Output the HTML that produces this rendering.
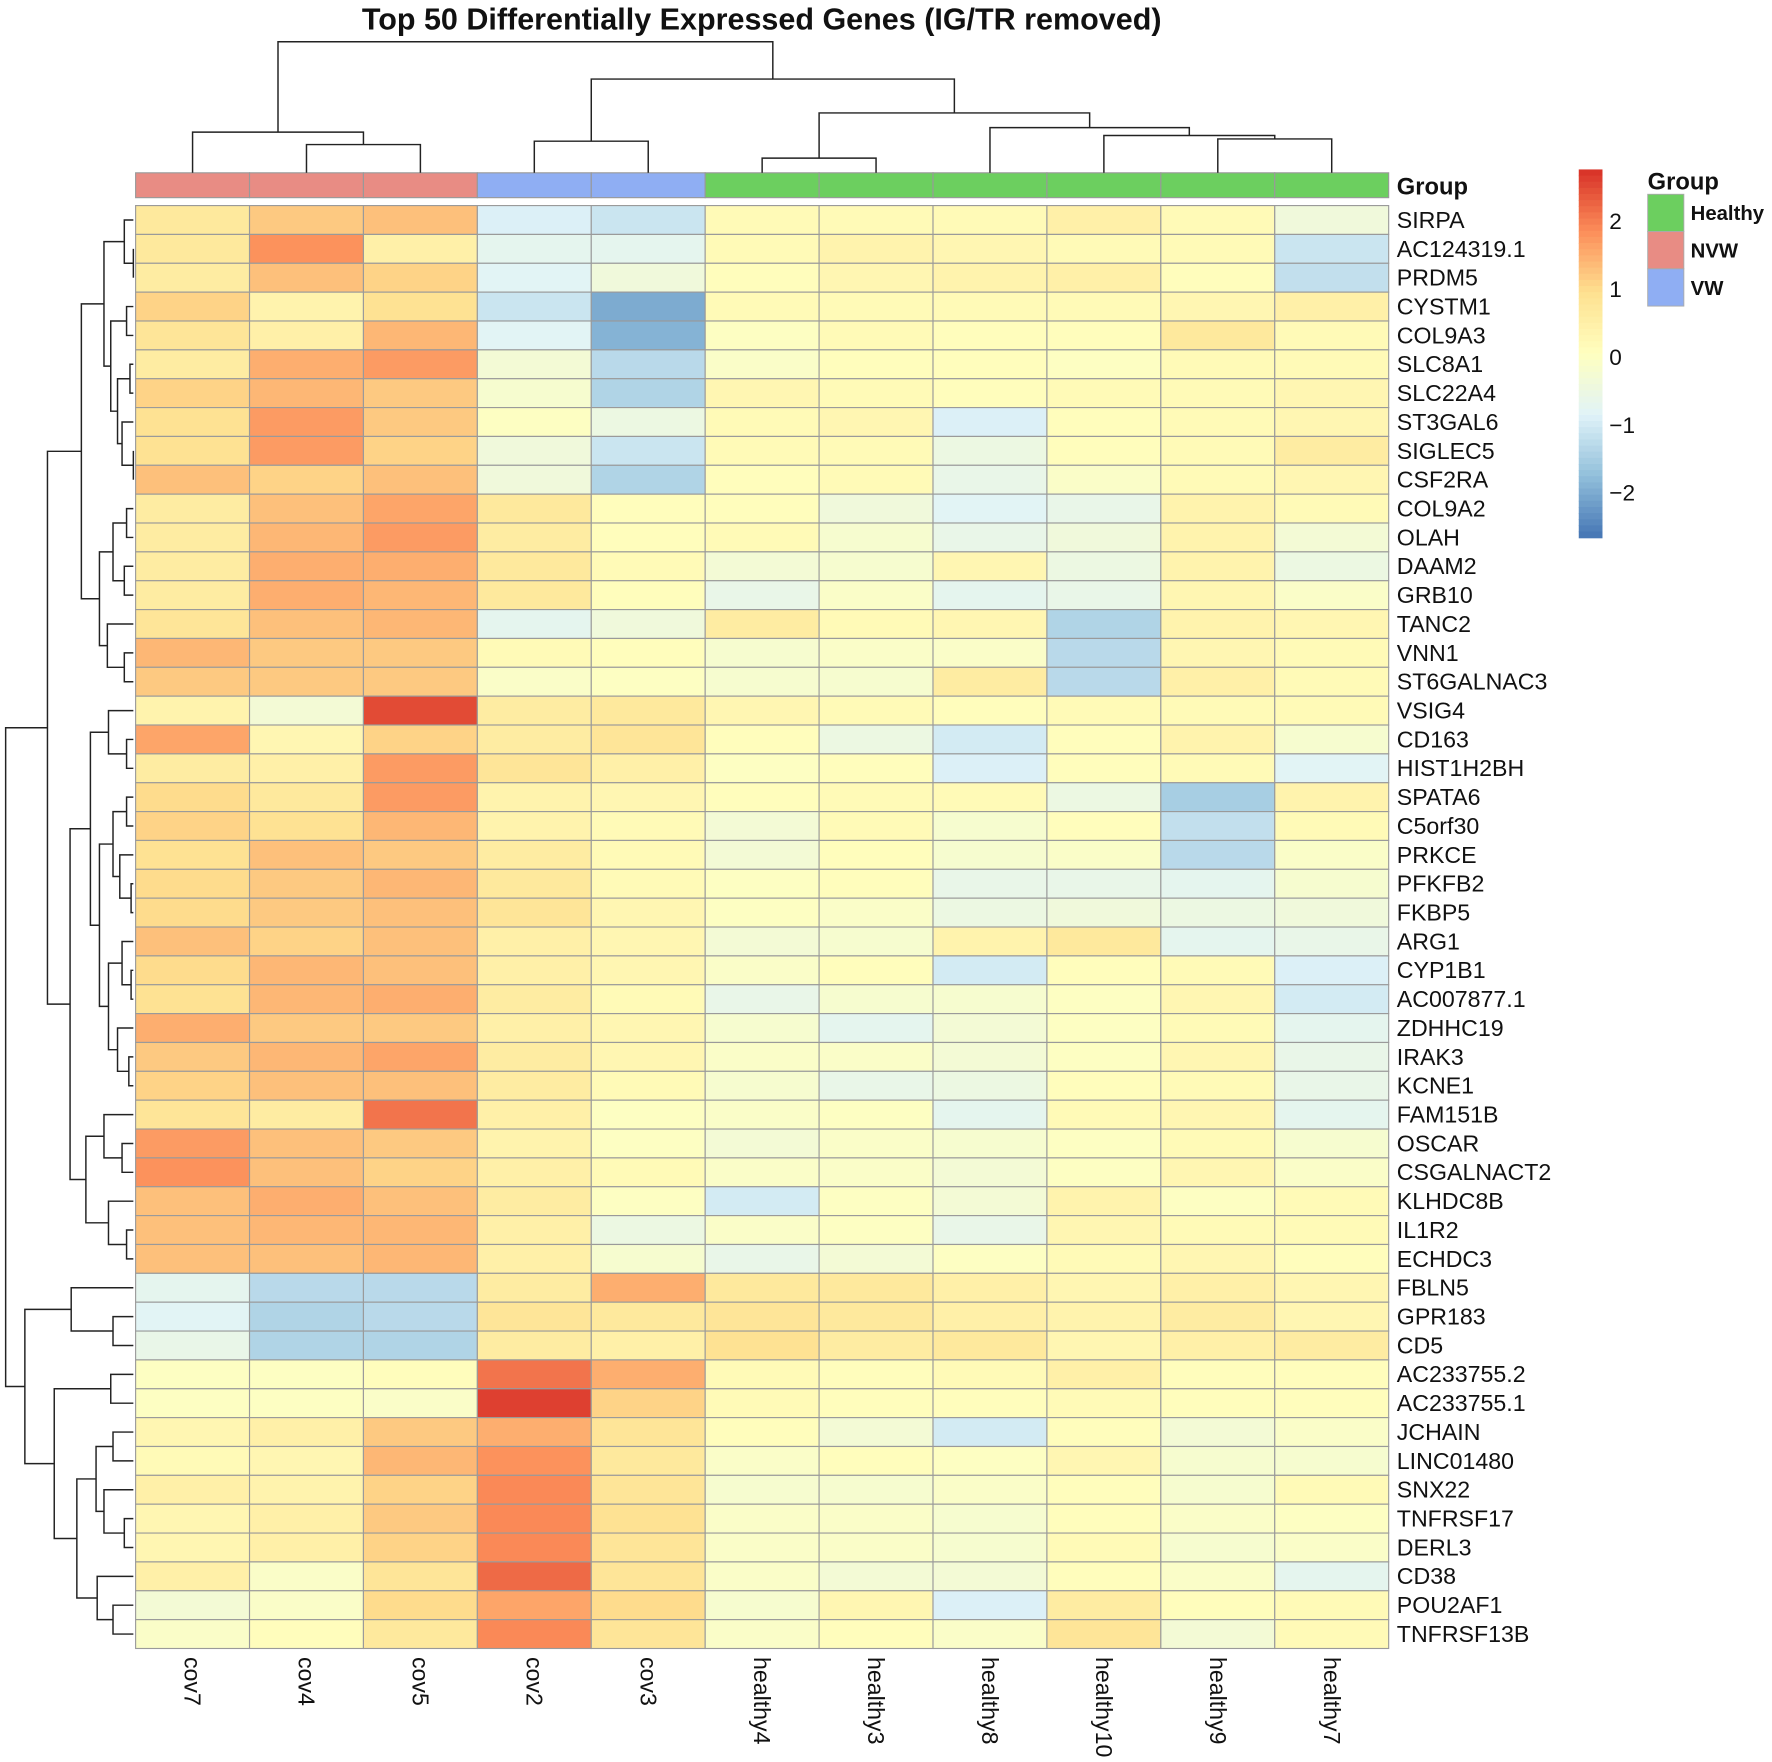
<!DOCTYPE html>
<html><head><meta charset="utf-8">
<style>html,body{margin:0;padding:0;background:#fff;}svg{display:block;}
text{font-family:"Liberation Sans",Arial,sans-serif;fill:#111;}</style></head>
<body>
<svg id="chart" xmlns="http://www.w3.org/2000/svg" width="1772" height="1762" viewBox="0 0 1568 1560" preserveAspectRatio="none">
<text x="674" y="26" text-anchor="middle" font-size="27" font-weight="bold">Top 50 Differentially Expressed Genes (IG/TR removed)</text>
<g id="g"></g>
</svg>
<script>
const samples = ["cov7","cov4","cov5","cov2","cov3","healthy4","healthy3","healthy8","healthy10","healthy9","healthy7"];
const groups = ["NVW","NVW","NVW","VW","VW","Healthy","Healthy","Healthy","Healthy","Healthy","Healthy"];
const genes = ["SIRPA","AC124319.1","PRDM5","CYSTM1","COL9A3","SLC8A1","SLC22A4","ST3GAL6","SIGLEC5","CSF2RA","COL9A2","OLAH","DAAM2","GRB10","TANC2","VNN1","ST6GALNAC3","VSIG4","CD163","HIST1H2BH","SPATA6","C5orf30","PRKCE","PFKFB2","FKBP5","ARG1","CYP1B1","AC007877.1","ZDHHC19","IRAK3","KCNE1","FAM151B","OSCAR","CSGALNACT2","KLHDC8B","IL1R2","ECHDC3","FBLN5","GPR183","CD5","AC233755.2","AC233755.1","JCHAIN","LINC01480","SNX22","TNFRSF17","DERL3","CD38","POU2AF1","TNFRSF13B"];
const values = [
[0.7,1.2,1.3,-0.9,-1.1,0.2,0.2,0.2,0.5,0.2,-0.4],
[0.7,1.8,0.5,-0.7,-0.7,0.2,0.4,0.3,0.2,0.2,-1.1],
[0.6,1.3,1.1,-0.8,-0.4,0.1,0.3,0.4,0.5,0.1,-1.2],
[1.1,0.4,0.9,-1.1,-2.0,0.2,0.2,0.2,0.2,0.3,0.5],
[0.8,0.5,1.4,-0.8,-1.9,0.0,0.2,0.1,0.1,0.7,0.2],
[0.6,1.5,1.7,-0.3,-1.3,-0.1,0.1,0.1,0.0,0.2,0.2],
[1.1,1.4,1.2,-0.2,-1.4,0.3,0.2,0.1,0.2,0.2,0.3],
[0.9,1.7,1.2,0.0,-0.5,0.2,0.3,-0.9,0.1,0.2,0.3],
[0.9,1.7,1.1,-0.4,-1.1,0.2,0.2,-0.5,0.1,0.2,0.6],
[1.3,1.1,1.3,-0.4,-1.4,0.1,0.2,-0.6,-0.1,0.2,0.3],
[0.6,1.3,1.6,0.7,0.1,0.1,-0.4,-0.8,-0.6,0.4,0.2],
[0.6,1.4,1.7,0.6,0.1,0.2,-0.2,-0.6,-0.4,0.4,-0.3],
[0.6,1.5,1.5,0.7,0.2,-0.3,-0.2,0.3,-0.5,0.4,-0.5],
[0.6,1.5,1.4,0.7,0.1,-0.6,-0.1,-0.7,-0.6,0.3,-0.1],
[0.8,1.3,1.4,-0.7,-0.4,0.6,0.2,0.3,-1.4,0.4,0.3],
[1.4,1.2,1.2,0.2,0.1,-0.2,-0.1,-0.1,-1.3,0.3,0.2],
[1.2,1.2,1.2,-0.1,0.0,-0.2,-0.2,0.6,-1.3,0.5,0.2],
[0.4,-0.3,2.5,0.6,0.7,0.3,0.2,0.1,0.2,0.2,0.2],
[1.6,0.3,1.1,0.6,0.8,0.1,-0.5,-1.0,0.1,0.4,-0.2],
[0.6,0.5,1.7,0.8,0.5,0.0,0.1,-0.9,0.1,0.2,-0.8],
[1.0,0.7,1.7,0.4,0.3,0.1,0.2,0.2,-0.5,-1.5,0.4],
[1.1,0.9,1.4,0.4,0.2,-0.3,0.2,-0.2,0.1,-1.2,0.2],
[0.9,1.3,1.2,0.6,0.2,-0.3,0.1,-0.2,-0.1,-1.3,-0.1],
[1.0,1.2,1.4,0.7,0.2,0.0,0.1,-0.6,-0.6,-0.7,-0.2],
[1.0,1.2,1.3,0.8,0.3,0.0,-0.1,-0.5,-0.4,-0.5,-0.4],
[1.3,1.1,1.3,0.5,0.3,-0.3,-0.2,0.4,0.7,-0.7,-0.6],
[1.0,1.4,1.3,0.5,0.3,-0.1,0.1,-1.0,0.1,0.2,-0.9],
[0.9,1.4,1.5,0.6,0.2,-0.6,-0.2,-0.2,0.0,0.3,-1.0],
[1.5,1.2,1.2,0.5,0.3,-0.2,-0.7,-0.3,0.0,0.2,-0.7],
[1.2,1.4,1.6,0.6,0.3,-0.1,-0.1,-0.3,0.0,0.3,-0.6],
[1.1,1.3,1.3,0.6,0.2,-0.2,-0.6,-0.5,0.1,0.2,-0.6],
[0.8,0.6,2.1,0.5,0.0,-0.1,0.0,-0.7,0.2,0.3,-0.7],
[1.7,1.3,1.2,0.4,0.0,-0.3,-0.1,-0.2,0.0,0.2,-0.2],
[1.8,1.3,1.1,0.5,0.2,-0.1,-0.1,-0.3,0.0,0.3,-0.1],
[1.3,1.5,1.3,0.6,0.0,-1.0,0.0,-0.3,0.4,0.0,0.2],
[1.3,1.4,1.4,0.5,-0.5,-0.1,0.0,-0.6,0.3,0.2,0.2],
[1.3,1.3,1.4,0.5,-0.2,-0.6,-0.3,0.0,0.2,0.3,0.1],
[-0.7,-1.3,-1.3,0.6,1.5,0.7,0.7,0.5,0.3,0.5,0.3],
[-0.8,-1.4,-1.3,0.8,0.7,0.8,0.7,0.5,0.4,0.6,0.3],
[-0.6,-1.4,-1.4,0.6,0.5,0.9,0.6,0.7,0.3,0.5,0.6],
[0.0,0.0,0.1,2.1,1.5,0.2,0.1,0.2,0.5,0.1,0.1],
[0.0,0.0,-0.1,2.6,1.1,0.2,0.1,0.1,0.2,0.1,0.1],
[0.3,0.5,1.2,1.5,0.8,0.1,-0.3,-1.0,0.1,-0.3,-0.1],
[0.2,0.3,1.4,1.8,0.7,-0.1,0.1,0.0,0.3,-0.2,-0.2],
[0.5,0.4,1.1,1.9,0.8,-0.2,-0.2,-0.1,0.1,-0.2,0.2],
[0.3,0.5,1.2,1.9,0.9,-0.1,-0.1,-0.2,0.1,-0.1,0.0],
[0.3,0.5,1.1,1.9,0.8,-0.1,-0.1,-0.2,0.2,-0.2,-0.1],
[0.5,-0.1,0.8,2.2,0.8,-0.1,-0.3,-0.3,0.1,-0.1,-0.7],
[-0.3,-0.1,1.0,1.6,1.0,-0.2,0.3,-0.9,0.6,0.1,0.2],
[-0.1,0.1,0.7,1.9,0.8,-0.1,0.1,-0.1,0.8,-0.3,0.2]];
const legendTicks = [2,1,0,-1,-2];
const groupNames = ["Healthy","NVW","VW"];
const colTree = [37,[117,0,[128,1,2]],[70,[125,3,4],[100,[140,5,6],[113,7,[120,8,[123,9,10]]]]]];
const rowTree = [5,[42,[72,[92,[110,0,[118,1,2]],[98,[112,3,4],[104,[115,5,6],[108,7,[118,8,9]]]]],[88,[100,[112,10,11],[110,12,13]],[95,14,[110,15,16]]]],[62,[80,[96,17,[112,18,19]],[88,[100,[112,20,21],[106,22,[116,23,24]]],[96,[108,25,[116,26,27]],[104,28,[114,29,30]]]]],[76,[92,31,[108,32,33]],[96,34,[112,35,36]]]]],[22,[63,37,[100,38,39]],[48,[98,40,41],[68,[85,[100,42,43],[92,44,[110,45,46]]],[86,47,[100,48,49]]]]]];

const NS="http://www.w3.org/2000/svg", G=document.getElementById('g');
const X0=120, CW=100.8, Y0=182, RH=25.55, VMIN=-2.66, VMAX=2.76;
const pal=["#4575B4","#91BFDB","#E0F3F8","#FFFFBF","#FEE090","#FC8D59","#D73027"];
const gcol={Healthy:"#6CCF5F",NVW:"#E88C84",VW:"#8FAEF3"};
function xs(i){return X0+CW*i;}
function ys(i){return Y0+RH*i;}
function hex(h){return [1,3,5].map(k=>parseInt(h.substr(k,2),16));}
function color(v){let t=(v-VMIN)/(VMAX-VMIN)*(pal.length-1);t=Math.max(0,Math.min(pal.length-1,t));
 const i=Math.min(pal.length-2,Math.floor(t)),f=t-i,a=hex(pal[i]),b=hex(pal[i+1]);
 return "rgb("+a.map((c,k)=>Math.round(c+(b[k]-c)*f)).join(",")+")";}
function vy(v){return 150+(VMAX-v)/(VMAX-VMIN)*326;}
function el(tag,attrs){const e=document.createElementNS(NS,tag);for(const k in attrs)e.setAttribute(k,attrs[k]);G.appendChild(e);return e;}

samples.forEach((s,j)=>{const r=el('rect',{x:xs(j),y:153,width:CW,height:22,fill:gcol[groups[j]],stroke:"#999","stroke-width":1});

});
let t=el('text',{x:1236,y:172,"font-size":21,"font-weight":"bold"});t.textContent="Group";



values.forEach((row,i)=>row.forEach((v,j)=>{const r=el('rect',{x:xs(j),y:ys(i),width:CW,height:RH,fill:color(v),stroke:"#9a9a9a","stroke-width":1});

}));
genes.forEach((g,i)=>{const tx=el('text',{x:1236,y:ys(i)+RH/2+7,"font-size":20.5});tx.textContent=g;

});
samples.forEach((s,j)=>{const cx=xs(j)+CW/2-7;const tx=el('text',{x:cx,y:1467,"font-size":20.5,transform:"rotate(90 "+cx+" 1467)"});tx.textContent=s;

});

function colDraw(n){if(typeof n==='number')return {x:xs(n)+CW/2,y:153};
 const a=colDraw(n[1]),b=colDraw(n[2]),h=n[0];
 const p=el('path',{d:`M${a.x},${a.y}V${h}H${b.x}V${b.y}`,fill:"none",stroke:"#222","stroke-width":1.3});
 
 
 return {x:(a.x+b.x)/2,y:h};}
colDraw(colTree);
function rowDraw(n){if(typeof n==='number')return {x:118,y:ys(n)+RH/2};
 const a=rowDraw(n[1]),b=rowDraw(n[2]),h=n[0];
 const p=el('path',{d:`M${a.x},${a.y}H${h}V${b.y}H${b.x}`,fill:"none",stroke:"#222","stroke-width":1.3});
 
 
 return {x:h,y:(a.y+b.y)/2};}
rowDraw(rowTree);

const N=60;for(let k=0;k<N;k++){const v=VMAX-(VMAX-VMIN)*(k+0.5)/N;const r=el('rect',{x:1397,y:150+326*k/N,width:21,height:326/N+0.6,fill:color(v)});

}
legendTicks.forEach(v=>{const tx=el('text',{x:1424,y:vy(v)+7,"font-size":20});tx.textContent=v<0?"\u2212"+(-v):String(v);

});
t=el('text',{x:1458,y:168,"font-size":21,"font-weight":"bold"});t.textContent="Group";


groupNames.forEach((g,k)=>{const r=el('rect',{x:1458,y:172+33*k,width:32,height:33,fill:gcol[g],stroke:"#aaa","stroke-width":0.8});


const tx=el('text',{x:1496,y:195+33*k,"font-size":18,"font-weight":"bold"});tx.textContent=g;

});
</script>
</body></html>
